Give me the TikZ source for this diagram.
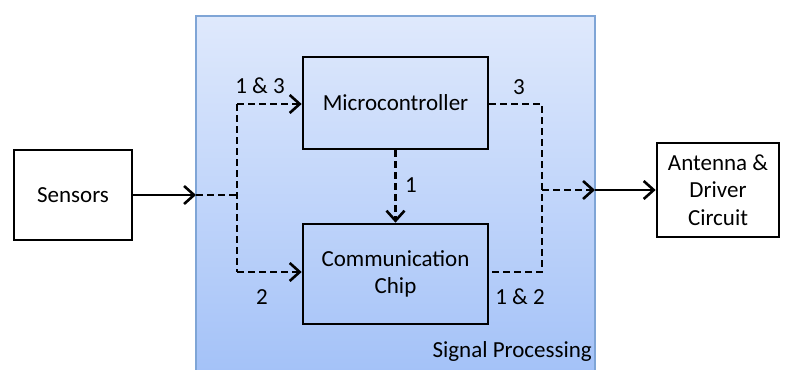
\documentclass[tikz,border=0pt]{standalone}
\usepackage{fontspec}
\setmainfont{Carlito}
\usetikzlibrary{arrows.meta}
\definecolor{panelTop}{HTML}{DFE9FC}
\definecolor{panelBot}{HTML}{A4C2F8}
\definecolor{panelEdge}{HTML}{7FA5D6}
\begin{document}
\begin{tikzpicture}[x=1pt,y=-1pt,
  blockbox/.style={draw=black,line width=2.7pt,fill=none,align=center,font=\fontsize{23}{27.5}\selectfont,inner sep=0pt},
  lbl/.style={font=\fontsize{23}{27.5}\selectfont,inner sep=0pt},
  tip/.style={-{Straight Barb[length=10pt,width=18pt,line width=2.6pt]}},
  sig/.style={line width=2.9pt},
  dsig/.style={line width=2.9pt,dash pattern=on 7pt off 4pt}]
\useasboundingbox (0,0) rectangle (791,369);
% signal processing panel
\shade[top color=panelTop,bottom color=panelBot] (196,16) rectangle (595,372);
\draw[panelEdge,line width=1.2pt] (196,372) -- (196,16) -- (595,16) -- (595,372);
\node[lbl,anchor=south east] (sp) at (592,362) {Signal Processing};
% blocks
\node[blockbox,minimum width=118pt,minimum height=90pt] (sens) at (73,195) {Sensors};
\node[blockbox,minimum width=185pt,minimum height=92pt] (mcu) at (395.5,103) {Microcontroller};
\node[blockbox,minimum width=185pt,minimum height=100pt] (chip) at (395.5,274) {Communication\\Chip};
\node[blockbox,minimum width=122pt,minimum height=94pt] (ant) at (718,190) {Antenna \&\\Driver\\Circuit};
% junction points
\coordinate (inE) at (196,195);
\coordinate (split) at (237,195);
\coordinate (outE) at (595,190);
\coordinate (merge) at (542,190);
% input path
\draw[sig,tip] (sens.east |- inE) -- (inE);
\draw[dsig] (inE) -- (split);
\draw[dsig] (237,104) -- (237,272);
\draw[dsig,tip] (237,104) -- (mcu.west |- 0,104);
\draw[dsig,tip] (237,272) -- (chip.west |- 0,272);
\draw[dsig,tip] (mcu.south) -- (chip.north);
% output path
\draw[dsig] (mcu.east |- 0,104) -- (542,104) -- (542,272) -- (chip.east |- 0,272);
\draw[dsig,tip] (merge) -- (outE);
\draw[sig,tip] (outE) -- (ant.west);
% labels
\node[lbl] (l13) at (260,86) {1 \& 3};
\node[lbl] (l2) at (262,297) {2};
\node[lbl] (l1) at (411,185) {1};
\node[lbl] (l3) at (519,87) {3};
\node[lbl] (l12) at (520,297) {1 \& 2};
\end{tikzpicture}
\end{document}
